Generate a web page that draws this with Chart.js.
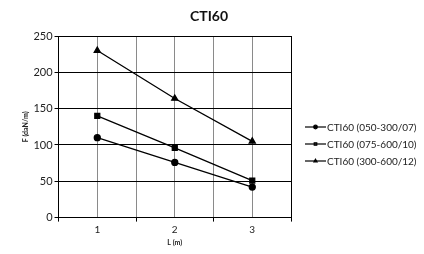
<!DOCTYPE html>
<html>
<head>
<meta charset="utf-8">
<script src="https://cdn.jsdelivr.net/npm/chart.js@4/dist/chart.umd.min.js"></script>
<style>
  html, body { margin: 0; padding: 0; background: #fff; }
  #wrap { width: 424px; height: 254px; }
</style>
</head>
<body>
<div id="wrap"><canvas id="ctiChart" width="424" height="254"></canvas></div>
<script>
const TITLE = 'CTI60';
const lengths = [1, 2, 3];
const seriesNames = ['CTI60 (050-300/07)', 'CTI60 (075-600/10)', 'CTI60 (300-600/12)'];
const series050 = [110, 76, 42];
const series075 = [140, 96, 51];
const series300 = [230, 164, 105];
const pointStyles = ['circle', 'rect', 'triangle'];
const pointSizes = [3, 3.5, 3.5];

const FONT = 'Lato, "Open Sans", sans-serif';

function toPoints(values) {
    return lengths.map((l, i) => ({ x: l, y: values[i] }));
}

// title centred on the whole canvas, not on the plot
const pageTitle = {
    id: 'pageTitle',
    afterDraw(chart) {
        const ctx = chart.ctx;
        ctx.save();
        ctx.fillStyle = '#111';
        ctx.font = 'bold 14px ' + FONT;
        ctx.textAlign = 'center';
        ctx.textBaseline = 'middle';
        ctx.fillText(TITLE, 209, 16);
        ctx.restore();
    }
};

// draws the line-with-marker legend on the right, Excel style
const sideLegend = {
    id: 'sideLegend',
    afterDraw(chart) {
        const ctx = chart.ctx;
        const x0 = 305;
        const rowY = [127, 144, 161];
        ctx.save();
        chart.data.datasets.forEach((ds, i) => {
            let y = rowY[i];
            ctx.strokeStyle = '#000';
            ctx.lineWidth = 1.2;
            ctx.beginPath();
            ctx.moveTo(x0, y);
            ctx.lineTo(x0 + 21, y);
            ctx.stroke();
            Chart.helpers.drawPoint(ctx, {
                pointStyle: ds.pointStyle,
                radius: 1.8,
                borderWidth: 1
            }, x0 + 10.5, y);
            ctx.fillStyle = '#222';
            ctx.font = '10px ' + FONT;
            ctx.textBaseline = 'middle';
            ctx.textAlign = 'left';
            ctx.fillText(ds.label, x0 + 22, y + 0.5);
        });
        ctx.restore();
    }
};

const datasets = [series050, series075, series300].map((vals, i) => ({
    label: seriesNames[i],
    data: toPoints(vals),
    borderColor: '#000',
    backgroundColor: '#000',
    borderWidth: 1.3,
    pointStyle: pointStyles[i],
    pointRadius: pointSizes[i],
    pointBackgroundColor: '#000',
    pointBorderColor: '#000',
    tension: 0
}));

new Chart(document.getElementById('ctiChart'), {
    type: 'line',
    data: { datasets: datasets },
    plugins: [sideLegend, pageTitle],
    options: {
        responsive: false,
        animation: false,
        layout: { padding: { left: 22, right: 133, top: 36, bottom: 7 } },
        plugins: {
            legend: { display: false },
            tooltip: { enabled: false },
            title: { display: false }
        },
        scales: {
            x: {
                type: 'linear',
                min: 0.5,
                max: 3.5,
                ticks: {
                    stepSize: 0.5,
                    color: '#222',
                    font: { family: FONT, size: 10 },
                    padding: 2,
                    maxRotation: 0,
                    callback: v => Number.isInteger(v) ? String(v) : ''
                },
                grid: {
                    color: ctx => (ctx.tick && ctx.tick.value === 3.5) ? '#000' : '#8a8a8a',
                    lineWidth: 1,
                    tickLength: 4,
                    tickColor: ctx => (ctx.tick && Number.isInteger(ctx.tick.value)) ? 'rgba(0,0,0,0)' : '#000'
                },
                border: { color: '#000', width: 1 },
                title: {
                    display: true,
                    text: 'L (m)',
                    color: '#222',
                    font: { family: FONT, size: 7, weight: 'bold' },
                    padding: { top: 1, bottom: 0 }
                }
            },
            y: {
                min: 0,
                max: 250,
                ticks: {
                    stepSize: 50,
                    color: '#222',
                    font: { family: FONT, size: 11 },
                    padding: 2
                },
                grid: {
                    color: '#000',
                    lineWidth: 1,
                    tickLength: 4,
                    tickColor: '#000'
                },
                border: { color: '#000', width: 1 },
                title: {
                    display: true,
                    text: 'F (daN/m)',
                    color: '#222',
                    font: { family: FONT, size: 7, weight: 'bold' },
                    padding: { top: 0, bottom: 1 }
                }
            }
        }
    }
});
</script>
</body>
</html>
